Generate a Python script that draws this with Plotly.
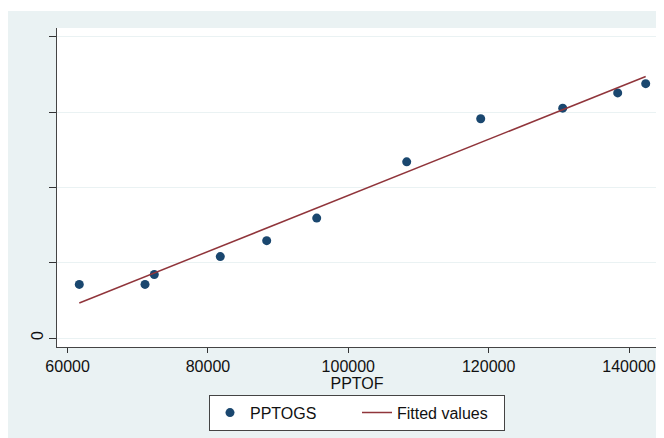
import numpy as np
import plotly.graph_objects as go

# Data
pptof = [61667, 71030, 72355, 81760, 88372, 95497, 108322, 118868, 130554, 138390, 142380]
pptogs = [14257, 14257, 16898, 21650, 25875, 31868, 46812, 58271, 61070, 65135, 67591]

x_ticks = [60000, 80000, 100000, 120000, 140000]
x_tick_labels = ["60000", "80000", "100000", "120000", "140000"]
y_ticks = [0, 20000, 40000, 60000, 80000]
y_tick_labels = ["0", "", "", "", ""]

# OLS fitted values
slope, intercept = np.polyfit(pptof, pptogs, 1)
fitted = [slope * v + intercept for v in pptof]

BG = "#EAF2F3"
NAVY = "#1A476F"
MAROON = "#90353B"
FONT = "Liberation Sans, Arial, sans-serif"

fig = go.Figure()
fig.add_trace(go.Scatter(
    x=pptof, y=pptogs, mode="markers", name="PPTOGS",
    marker=dict(color=NAVY, size=9, line=dict(width=0)),
))
fig.add_trace(go.Scatter(
    x=pptof, y=fitted, mode="lines", name="Fitted values",
    line=dict(color=MAROON, width=1.5),
))

# figure sits at page offset (8, 8) due to body margin
W, H = 656, 430
L, R, T, B = 49, 7, 20, 89
pw, ph = W - L - R, H - T - B

def px_x(p):
    return (p - L) / pw

def px_y(p):
    return (H - B - p) / ph

shapes = [
    dict(type="rect", xref="paper", yref="paper", x0=px_x(0), x1=px_x(W), y0=px_y(3), y1=px_y(0),
         fillcolor="white", line=dict(width=0), layer="below"),
]

fig.update_layout(
    width=W, height=H,
    margin=dict(l=L, r=R, t=T, b=B),
    paper_bgcolor=BG,
    plot_bgcolor="white",
    font=dict(family=FONT, size=16, color="#111111"),
    shapes=shapes,
    showlegend=True,
    legend=dict(
        orientation="h",
        x=0.5, xanchor="center",
        y=px_y(389), yanchor="top",
        bgcolor="white",
        bordercolor="#444444", borderwidth=1,
        font=dict(family=FONT, size=16, color="#111111"),
        entrywidth=102,
        itemwidth=30,
    ),
    xaxis=dict(
        range=[58489, 143990],
        tickmode="array", tickvals=x_ticks, ticktext=x_tick_labels,
        ticks="outside", ticklen=5, tickcolor="#333333", tickwidth=1,
        showgrid=False, zeroline=False,
        showline=True, linecolor="#444444", linewidth=1,
        title=dict(text="PPTOF", standoff=0, font=dict(size=16)),
        tickfont=dict(size=16),
    ),
    yaxis=dict(
        range=[-2376, 82376],
        tickmode="array", tickvals=y_ticks, ticktext=y_tick_labels,
        tickangle=-90,
        ticks="outside", ticklen=7, tickcolor="#333333", tickwidth=1,
        showgrid=True, gridcolor=BG, gridwidth=1,
        zeroline=False,
        showline=True, linecolor="#444444", linewidth=1,
        tickfont=dict(size=16),
    ),
)

fig.write_html("out.html")
